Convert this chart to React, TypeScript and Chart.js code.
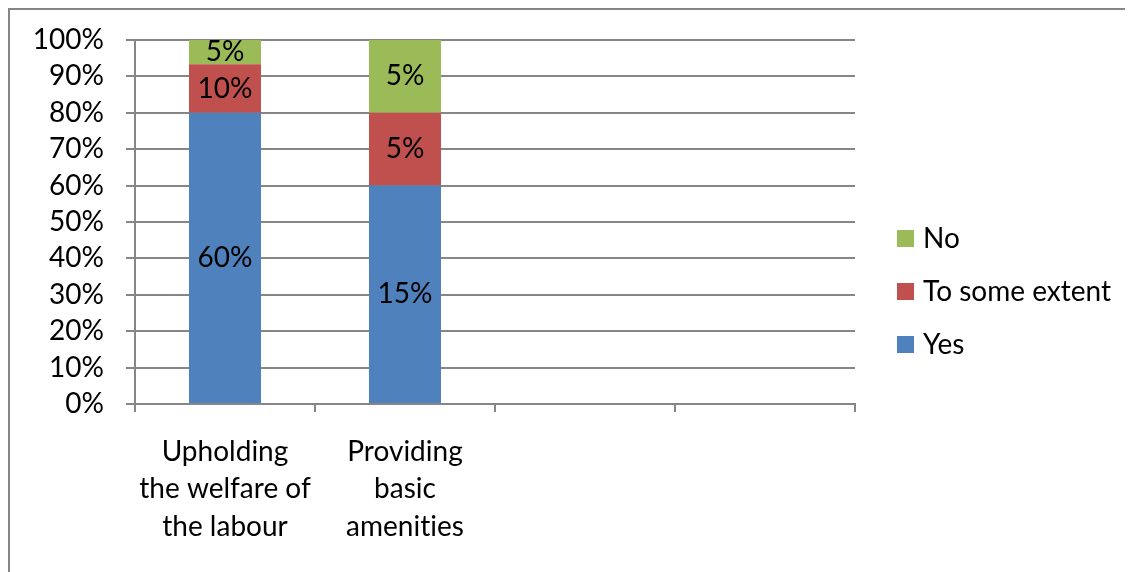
import React, { useEffect, useRef } from "react";
import { Chart, registerables } from "chart.js";

Chart.register(...registerables);

// ---- data ----
const categories: (string | string[])[] = [
  ["Upholding", "the welfare of", "the labour"],
  ["Providing", "basic", "amenities"],
  "",
  "",
];
const seriesNames = ["Yes", "To some extent", "No"];
const yesValues: (number | null)[] = [60, 15, null, null];
const someExtentValues: (number | null)[] = [10, 5, null, null];
const noValues: (number | null)[] = [5, 5, null, null];
const seriesColors = ["#4F81BD", "#C0504D", "#9BBB59"];
const yMin = 0;
const yMax = 100;
const yStep = 10;

const FONT = "Lato";
const FONT_SIZE = 28;
const GRID = "#868686";

const allSeries = [yesValues, someExtentValues, noValues];
const totals = categories.map((_, i) =>
  allSeries.reduce((s, arr) => s + (arr[i] ?? 0), 0)
);
const toPct = (arr: (number | null)[]) =>
  arr.map((v, i) => (v == null || !totals[i] ? null : (v / totals[i]) * 100));

const noLigaturePlugin = {
  id: "noLigature",
  beforeDraw(chart: any) {
    const ctx = chart.ctx as any;
    try {
      ctx.textRendering = "optimizeSpeed";
      ctx.letterSpacing = "0.01px";
    } catch (e) {}
  },
};

const valueLabelPlugin = {
  id: "valueLabels",
  afterDatasetsDraw(chart: any) {
    const ctx = chart.ctx;
    ctx.save();
    ctx.font = `${FONT_SIZE}px ${FONT}`;
    ctx.fillStyle = "#000";
    ctx.textAlign = "center";
    ctx.textBaseline = "middle";
    chart.data.datasets.forEach((ds: any, di: number) => {
      const meta = chart.getDatasetMeta(di);
      meta.data.forEach((el: any, i: number) => {
        const raw = ds.rawValues[i];
        if (raw == null) return;
        ctx.fillText(`${raw}%`, el.x, (el.y + el.base) / 2);
      });
    });
    ctx.restore();
  },
};

const sideLegendPlugin = {
  id: "sideLegend",
  afterDraw(chart: any) {
    const ctx = chart.ctx;
    const area = chart.chartArea;
    const dsList = chart.data.datasets.slice().reverse();
    const spacing = 53;
    const cy = chart.height / 2;
    const x = area.right + 42;
    ctx.save();
    ctx.font = `${FONT_SIZE}px ${FONT}`;
    ctx.textBaseline = "middle";
    ctx.textAlign = "left";
    dsList.forEach((ds: any, i: number) => {
      const y = cy + (i - (dsList.length - 1) / 2) * spacing;
      ctx.fillStyle = ds.backgroundColor;
      ctx.fillRect(x, y - 8, 17, 17);
      ctx.fillStyle = "#000";
      ctx.fillText(ds.label, x + 26, y + 1);
    });
    ctx.restore();
  },
};

export default function App() {
  const ref = useRef<HTMLCanvasElement>(null);
  useEffect(() => {
    if (!ref.current) return;
    const chart = new Chart(ref.current, {
      type: "bar",
      data: {
        labels: categories as any,
        datasets: allSeries.map((arr, i) => ({
          label: seriesNames[i],
          data: toPct(arr) as any,
          rawValues: arr,
          backgroundColor: seriesColors[i],
          borderWidth: 0,
          categoryPercentage: 1,
          barPercentage: 0.4,
        })) as any,
      },
      options: {
        responsive: false,
        animation: false,
        layout: { padding: { top: 30, right: 278, left: 0, bottom: 0 } },
        plugins: {
          legend: { display: false },
          tooltip: { enabled: false },
        },
        scales: {
          x: {
            stacked: true,
            grid: {
              drawOnChartArea: false,
              drawTicks: true,
              tickLength: 8,
              color: GRID,
              lineWidth: 2,
              offset: true,
            },
            border: { display: true, color: GRID, width: 2 },
            ticks: {
              color: "#000",
              padding: 21,
              maxRotation: 0,
              autoSkip: false,
              font: { family: FONT, size: FONT_SIZE, lineHeight: 37.5 / FONT_SIZE },
            },
            afterFit(scale: any) {
              scale.height = 168;
              scale.paddingLeft = 0;
              scale.paddingRight = 0;
            },
          },
          y: {
            stacked: true,
            min: yMin,
            max: yMax,
            grid: {
              color: GRID,
              lineWidth: 2,
              drawTicks: true,
              tickLength: 9,
            },
            border: { display: true, color: GRID, width: 2 },
            ticks: {
              stepSize: yStep,
              autoSkip: false,
              color: "#000",
              padding: 22,
              font: { family: FONT, size: FONT_SIZE, lineHeight: 1.0 },
              callback: (v: any) => `${v}%`,
            },
            afterFit(scale: any) {
              scale.width = 125;
              scale.paddingTop = 0;
              scale.paddingBottom = 0;
            },
          },
        },
      },
      plugins: [noLigaturePlugin, valueLabelPlugin, sideLegendPlugin],
    });
    return () => chart.destroy();
  }, []);

  return (
    <div
      style={{
        boxSizing: "border-box",
        width: 1125,
        height: 564,
        borderTop: `2px solid ${GRID}`,
        borderLeft: `2px solid ${GRID}`,
        background: "#fff",
      }}
    >
      <canvas ref={ref} width={1123} height={562} style={{ display: "block" }} />
    </div>
  );
}
